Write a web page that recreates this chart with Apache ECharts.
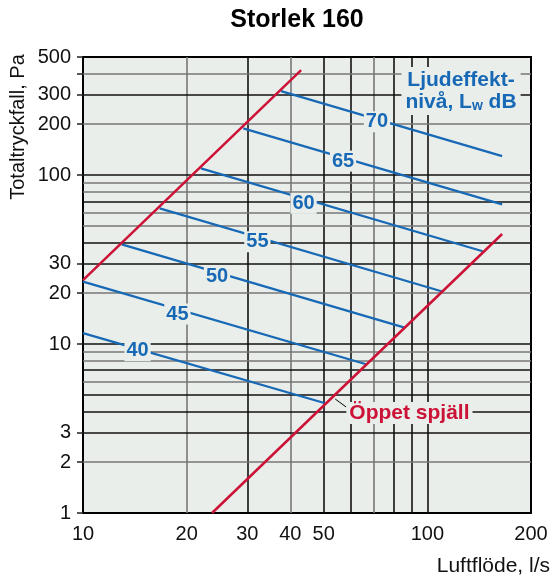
<!DOCTYPE html>
<html>
<head>
<meta charset="utf-8">
<script src="https://cdn.jsdelivr.net/npm/echarts@6/dist/echarts.min.js"></script>
<style>
html,body{margin:0;padding:0;background:#fff;}
#c{width:552px;height:577px;}
</style>
</head>
<body>
<div id="c"></div>
<script>
// ---- data ----
const xTickLabels = [10, 20, 30, 40, 50, 100, 200];
const yTickLabels = [1, 2, 3, 10, 20, 30, 100, 200, 300, 500];
const yTickMarks = [1, 2, 3, 10, 20, 30, 100, 200, 300, 400, 500];
const xGridDark = [30, 50, 60, 80, 90, 100];
const xGridGray = [20, 40, 70];
const yGridDark = [3, 4, 5, 7, 10, 30, 40, 70, 100, 300];
const yGridGray = [2, 6, 8, 9, 20, 50, 60, 80, 90, 200, 400];

const upperLimit = [[10, 23.9], [43, 418]];
const openDamper = [[23.7, 1], [164.9, 44.8]];
const L70 = [[37.6, 314], [164.9, 129.5]];
const L65 = [[29.2, 189], [164.9, 67.1]];
const L60 = [[22.0, 109.6], [144.8, 35.4]];
const L55 = [[16.7, 63.5], [111.1, 20.4]];
const L50 = [[12.95, 38.9], [85.9, 12.5]];
const L45 = [[10, 23.4], [66.4, 7.6]];
const L40 = [[10, 11.6], [50.5, 4.46]];
const levelLabels = [[71.4, 206.8, '70'], [56.9, 121, '65'], [43.7, 68.0, '60'], [32.1, 40.3, '55'],
                     [24.5, 25.0, '50'], [18.8, 15.05, '45'], [14.4, 9.13, '40']];
const damperLabel = [[88.7, 3.91, 'Öppet spjäll']];
const damperLeader = [[54.0, 4.73], [58.1, 4.24]];

const title = 'Storlek 160';
const yName = 'Totaltryckfall, Pa';
const xName = 'Luftflöde, l/s';

// ---- styles ----
const BG = '#e9eeeb';
const BLUE = '#1769b5';
const RED = '#cc1236';
const DARK = '#111';
const GRAY = '#767676';
const FONT = 'Liberation Sans, Arial, Helvetica, sans-serif';

const gridLines = []
  .concat(xGridDark.map(v => ({ xAxis: v, lineStyle: { color: DARK } })))
  .concat(xGridGray.map(v => ({ xAxis: v, lineStyle: { color: GRAY } })))
  .concat(yGridDark.map(v => ({ yAxis: v, lineStyle: { color: DARK } })))
  .concat(yGridGray.map(v => ({ yAxis: v, lineStyle: { color: GRAY } })));

function blueLine(d) {
  return { type: 'line', data: d, symbol: 'none', z: 3, silent: true,
           lineStyle: { color: BLUE, width: 2.2 } };
}

const chart = echarts.init(document.getElementById('c'), null, { renderer: 'canvas' });
chart.setOption({
  animation: false,
  backgroundColor: '#fff',
  textStyle: { fontFamily: FONT },
  grid: { left: 83, right: 21, top: 57, bottom: 64, show: true,
          backgroundColor: BG, borderColor: '#000', borderWidth: 2 },
  xAxis: {
    type: 'log', logBase: 10, min: 10, max: 200,
    axisLine: { show: true, lineStyle: { color: '#000', width: 2 } },
    axisTick: { show: false },
    splitLine: { show: false },
    axisLabel: { customValues: xTickLabels, fontSize: 20, color: '#111', margin: 11, fontFamily: FONT }
  },
  yAxis: {
    type: 'log', logBase: 10, min: 1, max: 500,
    axisLine: { show: true, lineStyle: { color: '#000', width: 2 } },
    axisTick: { show: true, customValues: yTickMarks, length: 6, lineStyle: { color: '#222', width: 1.5 } },
    splitLine: { show: false },
    axisLabel: { customValues: yTickLabels, fontSize: 20, color: '#111', margin: 12, fontFamily: FONT }
  },
  series: [
    { type: 'line', data: [], silent: true, z: 1,
      markLine: { silent: true, z: 1, symbol: ['none', 'none'], animation: false,
                  label: { show: false }, lineStyle: { type: 'solid', width: 1.6 },
                  emphasis: { disabled: true }, data: gridLines } },
    { type: 'line', data: upperLimit, symbol: 'none', z: 4, silent: true, lineStyle: { color: RED, width: 2.5 } },
    { type: 'line', data: openDamper, symbol: 'none', z: 4, silent: true, lineStyle: { color: RED, width: 2.5 } },
    blueLine(L70), blueLine(L65), blueLine(L60), blueLine(L55), blueLine(L50), blueLine(L45), blueLine(L40),
    { type: 'line', data: damperLeader, symbol: 'none', z: 3, silent: true, lineStyle: { color: '#000', width: 1 } },
    { type: 'scatter', data: levelLabels, symbolSize: 0, z: 6, silent: true,
      itemStyle: { opacity: 1 },
      label: { show: true, position: 'inside', formatter: p => p.value[2], color: BLUE,
               fontSize: 20, fontWeight: 'bold', fontFamily: FONT, opacity: 1,
               backgroundColor: BG, padding: [1, 2, 0, 2] } },
    { type: 'scatter', data: damperLabel, symbolSize: 0, z: 6, silent: true,
      itemStyle: { opacity: 1 },
      label: { show: true, position: 'inside', formatter: p => p.value[2], color: RED,
               fontSize: 21, fontWeight: 'bold', fontFamily: FONT, opacity: 1,
               backgroundColor: BG, padding: [1, 3, 0, 3] } }
  ],
  graphic: [
    { type: 'text', x: 297, y: 20, z: 10,
      style: { text: title, fill: '#000', font: 'bold 25px ' + FONT, textAlign: 'center', textVerticalAlign: 'middle' } },
    { type: 'text', x: 18, y: 127, rotation: Math.PI / 2, z: 10,
      style: { text: yName, fill: '#111', font: '20px ' + FONT, textAlign: 'center', textVerticalAlign: 'middle' } },
    { type: 'text', x: 550, y: 566, z: 10,
      style: { text: xName, fill: '#111', font: '21px ' + FONT, textAlign: 'right', textVerticalAlign: 'middle' } },
    { type: 'text', x: 461, y: 91, z: 10,
      style: {
        text: '{a|Ljudeffekt-}\n{a|nivå, L}{s|w}{a| dB}',
        textAlign: 'center', textVerticalAlign: 'middle',
        backgroundColor: BG, padding: [2, 4, 2, 4],
        rich: {
          a: { fill: BLUE, color: BLUE, font: 'bold 21px ' + FONT, fontSize: 21, fontWeight: 'bold', lineHeight: 22 },
          s: { fill: BLUE, color: BLUE, font: 'bold 14px ' + FONT, fontSize: 14, fontWeight: 'bold', lineHeight: 22, verticalAlign: 'bottom', padding: [6, 0, 0, 0] }
        }
      } }
  ]
});
</script>
</body>
</html>
